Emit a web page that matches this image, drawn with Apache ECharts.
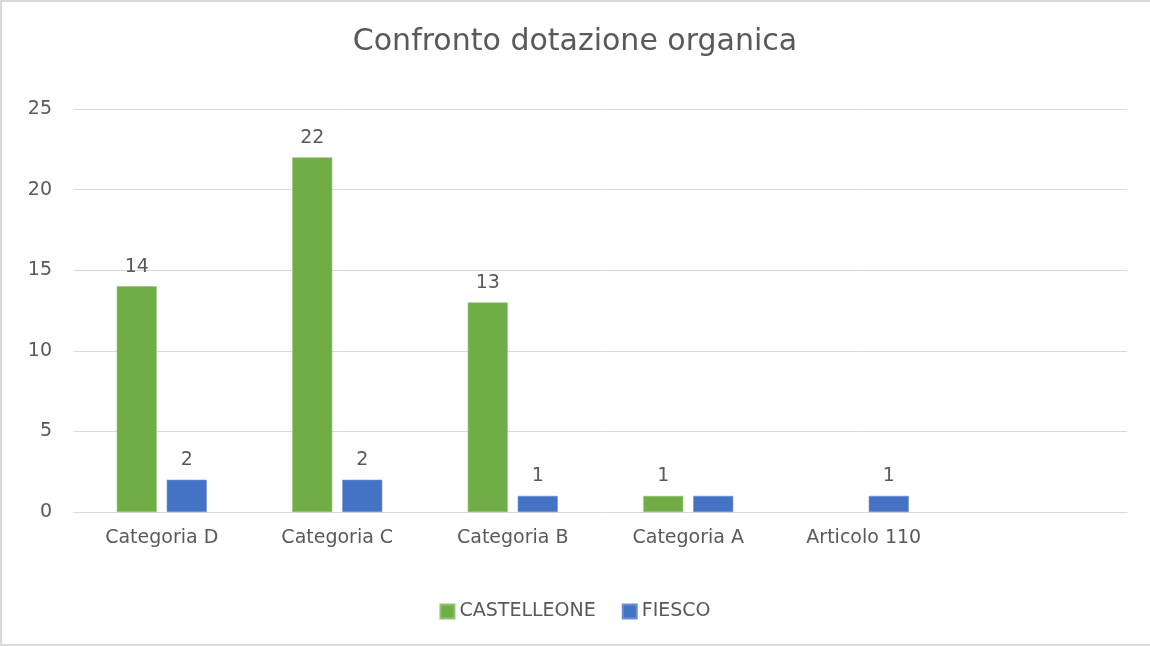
<!DOCTYPE html>
<html>

<head>
  <title>Confronto dotazione organica</title>
  <meta charset="utf-8">
  <style>
  html, body {
    margin: 0;
    padding: 0;
    background: #fff;
  }

  #chart {
    width: 1150px;
    height: 646px;
  }
  </style>
</head>

<body>
  <div id="chart"></div>
  <script src="https://cdn.jsdelivr.net/npm/echarts@6/dist/echarts.min.js"></script>
  <script>
  // categorie (l'ultima è vuota come nel grafico originale)
  const categories = ['Categoria D', 'Categoria C', 'Categoria B', 'Categoria A', 'Articolo 110', '']
  const castelleone = [14, 22, 13, 1, null, null]
  const fiesco = [2, 2, 1, 1, 1, null]
  // etichette non mostrate nell'originale
  const fiescoNoLabel = [3]
  const yTicks = [0, 5, 10, 15, 20, 25]

  const textColor = '#595959'
  const font = '"DejaVu Sans", "Open Sans", sans-serif'

  let option = {
    animation: false,
    title: {
      text: 'Confronto dotazione organica',
      left: 'center',
      top: 22,
      textStyle: {
        color: textColor,
        fontSize: 30,
        fontWeight: 'normal',
        fontFamily: font
      }
    },
    legend: {
      bottom: 20,
      left: 'center',
      itemWidth: 14,
      itemHeight: 14,
      itemGap: 26,
      icon: 'rect',
      textStyle: {
        color: textColor,
        fontSize: 19,
        fontFamily: font
      },
      data: ['CASTELLEONE', 'FIESCO']
    },
    grid: {
      left: 74,
      right: 23,
      top: 109,
      bottom: 134,
      outerBoundsMode: 'none',
      containLabel: false
    },
    xAxis: {
      type: 'category',
      data: categories,
      axisLine: { show: true, lineStyle: { color: '#d9d9d9', width: 1 } },
      axisTick: { show: false },
      axisLabel: {
        color: textColor,
        fontSize: 19,
        fontFamily: font,
        margin: 17
      }
    },
    yAxis: {
      type: 'value',
      min: yTicks[0],
      max: yTicks[yTicks.length - 1],
      interval: 5,
      axisLine: { show: false },
      axisTick: { show: false },
      splitLine: { lineStyle: { color: '#d9d9d9', width: 1 } },
      axisLabel: {
        color: textColor,
        fontSize: 19,
        fontFamily: font,
        margin: 22
      }
    },
    series: [{
      name: 'CASTELLEONE',
      type: 'bar',
      barWidth: 40,
      barGap: '25%',
      itemStyle: { color: '#70ad47', borderColor: '#8fc36b', borderWidth: 0.6 },
      label: {
        show: true,
        position: 'top',
        distance: 10,
        color: textColor,
        fontSize: 19,
        fontFamily: font
      },
      data: castelleone
    }, {
      name: 'FIESCO',
      type: 'bar',
      barWidth: 40,
      barGap: '25%',
      itemStyle: { color: '#4472c4', borderColor: '#6a8fd2', borderWidth: 0.6 },
      label: {
        show: true,
        position: 'top',
        distance: 10,
        color: textColor,
        fontSize: 19,
        fontFamily: font
      },
      data: fiesco.map((v, i) => fiescoNoLabel.includes(i) ? { value: v, label: { show: false } } : v)
    }],
    graphic: [{
      type: 'rect',
      shape: { x: 1, y: 1, width: 1220, height: 644 },
      style: { fill: 'none', stroke: '#d9d9d9', lineWidth: 2 },
      silent: true
    }]
  }

  let myChart = echarts.init(document.getElementById('chart'))
  myChart.setOption(option)
  </script>
</body>

</html>
